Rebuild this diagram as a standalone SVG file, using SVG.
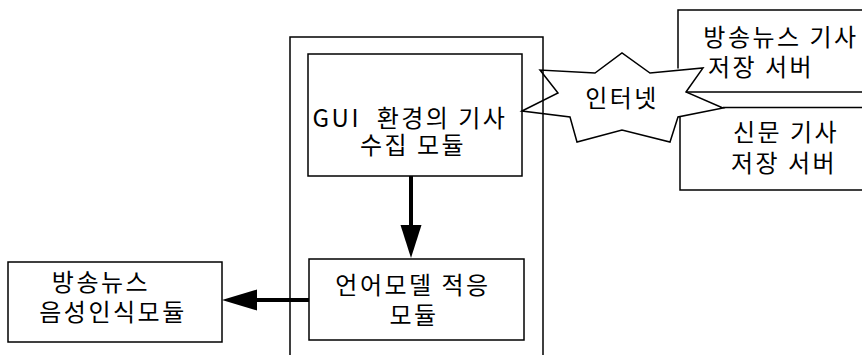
<svg xmlns="http://www.w3.org/2000/svg" width="862" height="355" viewBox="0 0 862 355">
<style>
.box{fill:none;stroke:#000;stroke-width:1.5}
.t{font-family:"Noto Sans CJK KR","Noto Sans",sans-serif;font-size:24px;fill:#000;text-anchor:middle;letter-spacing:2.5px;white-space:pre}
.shaft{stroke:#000;stroke-width:4;fill:none}
.head{fill:#000}
</style>
<rect width="862" height="355" fill="#fff"/>
<g id="container">
<path class="box" d="M290,356 V37 H543 V356"/>
</g>
<g id="gui-module">
<rect class="box" x="308" y="54" width="214" height="122"/>
<text class="t" x="410" y="126.5">GUI  환경의 기사</text>
<text class="t" x="413" y="153.5">수집 모듈</text>
</g>
<g id="lm-module">
<rect class="box" x="309" y="259" width="215" height="81"/>
<text class="t" x="413" y="293.5">언어모델 적응</text>
<text class="t" x="414" y="323.5">모듈</text>
</g>
<g id="asr-module">
<rect class="box" x="8" y="262" width="214" height="80"/>
<text class="t" x="101" y="290.5">방송뉴스</text>
<text class="t" x="113" y="320.5">음성인식모듈</text>
</g>
<g id="internet">
<polygon fill="none" stroke="#000" stroke-width="1.5" points="522,111 558,93 540,70 595,73 622,53 650,73 703,68 686,92 723,108 678,117 670,142 622,130 577,142 570,117"/>
<text class="t" x="622" y="106.5">인터넷</text>
</g>
<g id="broadcast-server">
<path class="box" d="M864,10 H678 V68.5 M686,92 H864"/>
<text class="t" x="781" y="45.5">방송뉴스 기사</text>
<text class="t" x="761" y="75.5">저장 서버</text>
</g>
<g id="newspaper-server">
<path class="box" d="M723,107.5 H864 M680,116.6 V190 H864"/>
<text class="t" x="786" y="140.5">신문 기사</text>
<text class="t" x="784" y="171.5">저장 서버</text>
</g>
<g id="connectors">
<line class="shaft" x1="411" y1="176" x2="411" y2="228"/>
<polygon class="head" points="400.5,225 421.5,225 411,258"/>
<line class="shaft" x1="309" y1="300" x2="254" y2="300"/>
<polygon class="head" points="257,289.5 257,310.5 222,300"/>
</g>
</svg>
